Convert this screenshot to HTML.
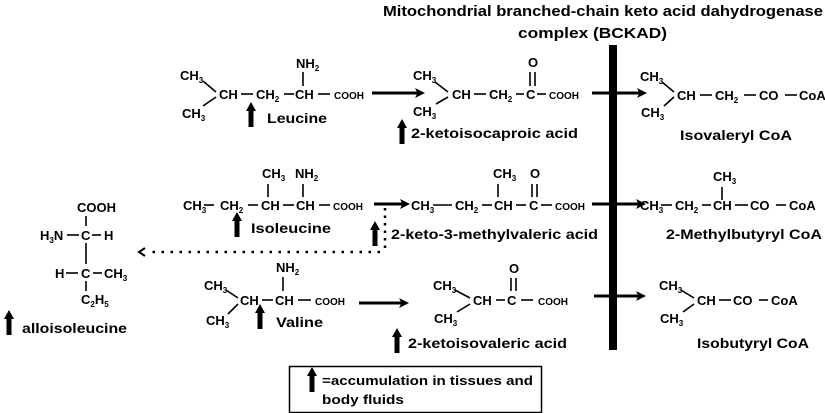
<!DOCTYPE html>
<html><head><meta charset="utf-8"><style>
html,body{margin:0;padding:0;background:#fff;}
svg{display:block;font-family:"Liberation Sans",Arial,sans-serif;font-weight:bold;}
.f{font-size:13px;}
.c{font-size:10px;}
.s{font-size:8px;}
.l{font-size:14px;}
line{stroke:#000;}
</style></head><body>
<svg width="825" height="413" viewBox="0 0 825 413">
<defs>
<marker id="ah" markerWidth="10" markerHeight="10" refX="7" refY="5" orient="auto" markerUnits="userSpaceOnUse"><path d="M0,0 L10,5 L0,10 L2.5,5z" fill="#000"/></marker>
<path id="up" d="M5,0 L10,9 L7.5,9 L7.5,25 L2.5,25 L2.5,9 L0,9 Z" fill="#000"/>
</defs>
<g stroke-width="1.6">
<!-- title -->
<text x="383" y="16" style="font-size:15px" textLength="440" lengthAdjust="spacingAndGlyphs">Mitochondrial branched-chain keto acid dahydrogenase</text>
<text x="518" y="38" style="font-size:15px" textLength="149" lengthAdjust="spacingAndGlyphs">complex (BCKAD)</text>
<rect x="609" y="45" width="8" height="305" fill="#000"/>

<!-- Leucine -->
<text x="180" y="80" class="f">CH<tspan class="s" dy="3">3</tspan></text>
<text x="182" y="118" class="f">CH<tspan class="s" dy="3">3</tspan></text>
<line x1="203" y1="81" x2="216" y2="92"/><line x1="203" y1="106" x2="216" y2="97"/>
<text x="219" y="99" class="f">CH</text><line x1="241" y1="94" x2="253" y2="94"/>
<text x="256" y="99" class="f">CH<tspan class="s" dy="3">2</tspan></text><line x1="284" y1="94" x2="294" y2="94"/>
<text x="295" y="99" class="f">CH</text><line x1="318" y1="94" x2="330" y2="94"/>
<text x="334" y="99" class="c">COOH</text>
<text x="296" y="68" class="f">NH<tspan class="s" dy="3">2</tspan></text><line x1="303" y1="72" x2="303" y2="86"/>
<line x1="372" y1="93" x2="422" y2="93" stroke-width="3" marker-end="url(#ah)"/>
<use href="#up" x="246" y="102"/>
<text x="267" y="123" class="l" textLength="60" lengthAdjust="spacingAndGlyphs">Leucine</text>

<text x="413" y="80" class="f">CH<tspan class="s" dy="3">3</tspan></text>
<text x="413" y="116" class="f">CH<tspan class="s" dy="3">3</tspan></text>
<line x1="435" y1="82" x2="448" y2="92"/><line x1="436" y1="104" x2="448" y2="97"/>
<text x="452" y="99" class="f">CH</text><line x1="474" y1="94" x2="486" y2="94"/>
<text x="489" y="99" class="f">CH<tspan class="s" dy="3">2</tspan></text><line x1="516" y1="94" x2="524" y2="94"/>
<text x="526" y="99" class="f">C</text><line x1="537" y1="94" x2="546" y2="94"/>
<text x="549" y="99" class="c">COOH</text>
<text x="528" y="67" class="f">O</text><line x1="530" y1="72" x2="530" y2="86"/><line x1="535" y1="72" x2="535" y2="86"/>
<use href="#up" x="397" y="119"/>
<text x="411" y="138" class="l" textLength="167" lengthAdjust="spacingAndGlyphs">2-ketoisocaproic acid</text>
<line x1="592" y1="93" x2="644" y2="93" stroke-width="3" marker-end="url(#ah)"/>

<text x="640" y="81" class="f">CH<tspan class="s" dy="3">3</tspan></text>
<text x="641" y="117" class="f">CH<tspan class="s" dy="3">3</tspan></text>
<line x1="662" y1="82" x2="674" y2="92"/><line x1="664" y1="106" x2="674" y2="97"/>
<text x="677" y="100" class="f">CH</text><line x1="700" y1="95" x2="712" y2="95"/>
<text x="715" y="100" class="f">CH<tspan class="s" dy="3">2</tspan></text><line x1="744" y1="95" x2="756" y2="95"/>
<text x="759" y="100" class="f">CO</text><line x1="785" y1="95" x2="797" y2="95"/>
<text x="799" y="100" class="f">CoA</text>
<text x="680" y="140" class="l" textLength="112" lengthAdjust="spacingAndGlyphs">Isovaleryl CoA</text>

<!-- Isoleucine -->
<text x="183" y="210" class="f">CH<tspan class="s" dy="3">3</tspan></text><line x1="204" y1="205" x2="214" y2="205"/>
<text x="220" y="210" class="f">CH<tspan class="s" dy="3">2</tspan></text><line x1="248" y1="205" x2="258" y2="205"/>
<text x="261" y="210" class="f">CH</text><line x1="283" y1="205" x2="294" y2="205"/>
<text x="296" y="210" class="f">CH</text><line x1="319" y1="205" x2="330" y2="205"/>
<text x="333" y="210" class="c">COOH</text>
<text x="262" y="178" class="f">CH<tspan class="s" dy="3">3</tspan></text><line x1="268" y1="184" x2="268" y2="197"/>
<text x="295" y="178" class="f">NH<tspan class="s" dy="3">2</tspan></text><line x1="303" y1="184" x2="303" y2="197"/>
<use href="#up" x="232" y="212"/>
<text x="251" y="233" class="l" textLength="80" lengthAdjust="spacingAndGlyphs">Isoleucine</text>
<line x1="374" y1="204" x2="407" y2="204" stroke-width="3" marker-end="url(#ah)"/>

<text x="411" y="210" class="f">CH<tspan class="s" dy="3">3</tspan></text><line x1="433" y1="205" x2="452" y2="205"/>
<text x="455" y="210" class="f">CH<tspan class="s" dy="3">2</tspan></text><line x1="482" y1="205" x2="492" y2="205"/>
<text x="494" y="210" class="f">CH</text><line x1="516" y1="205" x2="526" y2="205"/>
<text x="529" y="210" class="f">C</text><line x1="541" y1="205" x2="552" y2="205"/>
<text x="555" y="210" class="c">COOH</text>
<text x="493" y="178" class="f">CH<tspan class="s" dy="3">3</tspan></text><line x1="498" y1="184" x2="498" y2="197"/>
<text x="530" y="178" class="f">O</text><line x1="532" y1="184" x2="532" y2="197"/><line x1="537" y1="184" x2="537" y2="197"/>
<line x1="592" y1="204" x2="643" y2="204" stroke-width="3" marker-end="url(#ah)"/>
<use href="#up" x="370" y="221"/>
<text x="391" y="239" class="l" textLength="207" lengthAdjust="spacingAndGlyphs">2-keto-3-methylvaleric acid</text>

<text x="640" y="210" class="f">CH<tspan class="s" dy="3">3</tspan></text><line x1="661" y1="205" x2="672" y2="205"/>
<text x="675" y="210" class="f">CH<tspan class="s" dy="3">2</tspan></text><line x1="702" y1="205" x2="711" y2="205"/>
<text x="713" y="210" class="f">CH</text><line x1="735" y1="205" x2="748" y2="205"/>
<text x="750" y="210" class="f">CO</text><line x1="776" y1="205" x2="786" y2="205"/>
<text x="789" y="210" class="f">CoA</text>
<text x="713" y="181" class="f">CH<tspan class="s" dy="3">3</tspan></text><line x1="722" y1="187" x2="722" y2="200"/>
<text x="666" y="239" class="l" textLength="156" lengthAdjust="spacingAndGlyphs">2-Methylbutyryl CoA</text>

<!-- dotted -->
<line x1="385" y1="208" x2="385" y2="248" stroke-width="2.5" stroke-dasharray="2.5,5"/>
<line x1="380" y1="252" x2="148" y2="252" stroke-width="2.5" stroke-dasharray="2.5,6.5"/>
<path d="M145,248 L139,252 L145,256" fill="none" stroke="#000" stroke-width="2"/>

<!-- alloisoleucine -->
<text x="77" y="212" class="f">COOH</text>
<text x="40" y="240" class="f">H<tspan class="s" dy="3">3</tspan><tspan dy="-3">N</tspan></text>
<line x1="67" y1="235" x2="79" y2="235"/>
<text x="81" y="240" class="f">C</text>
<line x1="92" y1="235" x2="101" y2="235"/>
<text x="104" y="240" class="f">H</text>
<line x1="86" y1="216" x2="86" y2="226"/><line x1="86" y1="243" x2="86" y2="264"/>
<text x="55" y="278" class="f">H</text><line x1="66" y1="273" x2="78" y2="273"/>
<text x="81" y="278" class="f">C</text><line x1="93" y1="273" x2="102" y2="273"/>
<text x="104" y="278" class="f">CH<tspan class="s" dy="3">3</tspan></text>
<line x1="86" y1="281" x2="86" y2="291"/>
<text x="81" y="304" class="f">C<tspan class="s" dy="3">2</tspan><tspan dy="-3">H</tspan><tspan class="s" dy="3">5</tspan></text>
<use href="#up" x="4" y="310"/>
<text x="22" y="333" class="l" textLength="105" lengthAdjust="spacingAndGlyphs">alloisoleucine</text>

<!-- Valine -->
<text x="204" y="290" class="f">CH<tspan class="s" dy="3">3</tspan></text>
<text x="206" y="325" class="f">CH<tspan class="s" dy="3">3</tspan></text>
<line x1="226" y1="290" x2="238" y2="298"/><line x1="228" y1="314" x2="238" y2="304"/>
<text x="240" y="305" class="f">CH</text><line x1="262" y1="300" x2="273" y2="300"/>
<text x="275" y="305" class="f">CH</text><line x1="298" y1="300" x2="311" y2="300"/>
<text x="315" y="305" class="c">COOH</text>
<text x="276" y="272" class="f">NH<tspan class="s" dy="3">2</tspan></text><line x1="283" y1="277" x2="283" y2="291"/>
<use href="#up" x="255" y="304"/>
<text x="276" y="327" class="l" textLength="47" lengthAdjust="spacingAndGlyphs">Valine</text>
<line x1="359" y1="303" x2="406" y2="303" stroke-width="3" marker-end="url(#ah)"/>

<text x="433" y="290" class="f">CH<tspan class="s" dy="3">3</tspan></text>
<text x="434" y="323" class="f">CH<tspan class="s" dy="3">3</tspan></text>
<line x1="455" y1="290" x2="470" y2="298"/><line x1="457" y1="312" x2="470" y2="304"/>
<text x="473" y="305" class="f">CH</text><line x1="496" y1="300" x2="505" y2="300"/>
<text x="507" y="305" class="f">C</text><line x1="521" y1="300" x2="533" y2="300"/>
<text x="538" y="305" class="c">COOH</text>
<text x="509" y="273" class="f">O</text><line x1="511" y1="278" x2="511" y2="291"/><line x1="516" y1="278" x2="516" y2="291"/>
<use href="#up" x="392" y="328"/>
<text x="408" y="348" class="l" textLength="159" lengthAdjust="spacingAndGlyphs">2-ketoisovaleric acid</text>
<line x1="594" y1="296" x2="643" y2="296" stroke-width="3" marker-end="url(#ah)"/>

<text x="659" y="290" class="f">CH<tspan class="s" dy="3">3</tspan></text>
<text x="660" y="323" class="f">CH<tspan class="s" dy="3">3</tspan></text>
<line x1="681" y1="290" x2="694" y2="298"/><line x1="683" y1="312" x2="694" y2="304"/>
<text x="697" y="305" class="f">CH</text><line x1="719" y1="300" x2="731" y2="300"/>
<text x="733" y="305" class="f">CO</text><line x1="759" y1="300" x2="768" y2="300"/>
<text x="771" y="305" class="f">CoA</text>
<text x="697" y="348" class="l" textLength="112" lengthAdjust="spacingAndGlyphs">Isobutyryl CoA</text>

<!-- legend -->
<rect x="289.5" y="366.5" width="252" height="46" fill="none" stroke="#000" stroke-width="1.5"/>
<use href="#up" x="307" y="367"/>
<text x="322" y="385" class="f" textLength="211" lengthAdjust="spacingAndGlyphs">=accumulation in tissues and</text>
<text x="322" y="404" class="f" textLength="82" lengthAdjust="spacingAndGlyphs">body fluids</text>
</g>
</svg>
</body></html>
